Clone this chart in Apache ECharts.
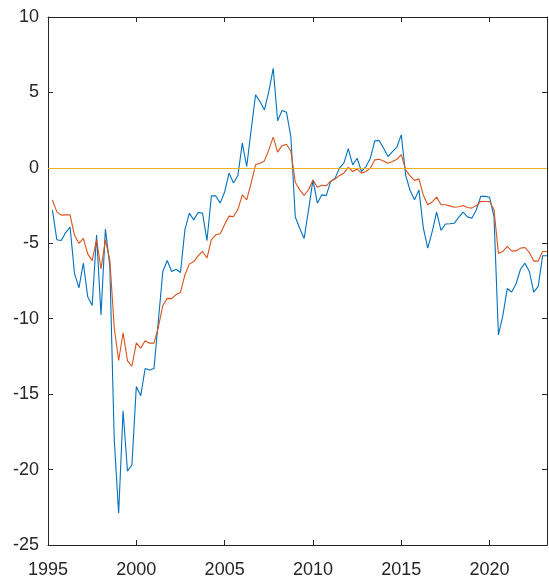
<!DOCTYPE html>
<html>
<head>
<meta charset="utf-8">
<script src="https://cdn.jsdelivr.net/npm/echarts@6/dist/echarts.min.js"></script>
<style>
html,body{margin:0;padding:0;background:#fff;}
#chart{width:549px;height:583px;}
</style>
</head>
<body>
<div id="chart"></div>
<script>
// Quarterly observations, first one at 1995 Q1 (plotted at 1995.25)
const firstYear = 1995;
const firstQuarter = 1;
const xTicks = [1995, 2000, 2005, 2010, 2015, 2020];
const yTicks = [-25, -20, -15, -10, -5, 0, 5, 10];

const seriesBlue = [
  -2.78, -4.77, -4.82, -4.29, -3.93, -7.0, -7.95, -6.32, -8.55, -9.13,
  -4.46, -9.75, -4.06, -6.5, -18.0, -22.9, -16.1, -20.1, -19.7, -14.5,
  -15.1, -13.3, -13.4, -13.3, -10.1, -6.87, -6.14, -6.87, -6.72, -6.94,
  -4.11, -3.0, -3.45, -2.96, -3.0, -4.82, -1.86, -1.86, -2.34, -1.6,
  -0.35, -1.01, -0.51, 1.64, 0.09, 2.5, 4.84, 4.4, 3.84, 5.06,
  6.6, 3.12, 3.8, 3.69, 2.05, -3.26, -4.0, -4.68, -2.78, -0.8,
  -2.34, -1.79, -1.84, -0.91, -0.68, -0.02, 0.31, 1.28, 0.2, 0.64,
  -0.24, 0.09, 0.64, 1.79, 1.81, 1.3, 0.75, 1.08, 1.38, 2.19,
  -0.5, -1.5, -2.12, -1.46, -4.0, -5.32, -4.22, -2.94, -4.14, -3.72,
  -3.71, -3.67, -3.28, -2.94, -3.25, -3.34, -2.78, -1.89, -1.89, -1.95,
  -3.23, -11.07, -9.8, -8.0, -8.23, -7.68, -6.72, -6.32, -6.87, -8.24,
  -7.86, -5.83, -5.83
];

const seriesOrange = [
  -2.12, -2.92, -3.13, -3.12, -3.12, -4.47, -5.0, -4.67, -5.7, -6.15,
  -4.75, -6.7, -4.77, -6.1, -10.6, -12.77, -10.93, -12.8, -13.15, -11.6,
  -11.95, -11.46, -11.62, -11.62, -10.55, -9.12, -8.65, -8.67, -8.4, -8.26,
  -7.1, -6.38, -6.21, -5.83, -5.54, -5.98, -4.75, -4.44, -4.37, -3.75,
  -3.2, -3.23, -2.76, -1.79, -2.12, -1.01, 0.2, 0.31, 0.46, 1.19,
  2.04, 1.04, 1.47, 1.57, 1.1, -0.95, -1.46, -1.83, -1.45, -0.8,
  -1.29, -1.15, -1.19, -0.88, -0.74, -0.5, -0.35, 0.03, -0.24, -0.07,
  -0.35, -0.24, -0.02, 0.53, 0.57, 0.46, 0.31, 0.42, 0.57, 0.88,
  -0.13, -0.53, -0.83, -0.73, -1.81, -2.45, -2.26, -1.94, -2.45, -2.45,
  -2.52, -2.61, -2.58, -2.5, -2.63, -2.67, -2.5, -2.23, -2.23, -2.23,
  -2.78, -5.67, -5.54, -5.21, -5.5, -5.5, -5.32, -5.28, -5.61, -6.18,
  -6.18, -5.54, -5.54
];

const referenceLevel = 0;

// time position of each quarter (end of quarter)
const xPos = seriesBlue.map((_, i) => firstYear + (firstQuarter - 1) * 0.25 + 0.25 * (i + 1));
const blueData = seriesBlue.map((v, i) => [xPos[i], v]);
const orangeData = seriesOrange.map((v, i) => [xPos[i], v]);

const axisColor = '#262626';
const font = 'Liberation Sans, Arial, Helvetica, sans-serif';
const xMin = xTicks[0], xMax = 2023.25;
const yMin = yTicks[0], yMax = yTicks[yTicks.length - 1];

const chart = echarts.init(document.getElementById('chart'), null, {renderer: 'canvas'});
chart.setOption({
  animation: false,
  backgroundColor: '#ffffff',
  grid: {left: 48, right: 2, top: 17, bottom: 38, containLabel: false},
  xAxis: [
    {
      type: 'value', min: xMin, max: xMax, interval: 5, position: 'bottom',
      axisLine: {show: true, onZero: false, lineStyle: {color: axisColor, width: 1}},
      axisTick: {show: true, inside: true, length: 5, lineStyle: {color: axisColor}},
      axisLabel: {show: true, color: axisColor, fontSize: 18, fontFamily: font, margin: 16,
        showMaxLabel: false,
        formatter: v => (xTicks.indexOf(v) >= 0 ? String(v) : '')},
      splitLine: {show: false}
    },
    {
      type: 'value', min: xMin, max: xMax, interval: 5, position: 'top',
      axisLine: {show: true, onZero: false, lineStyle: {color: axisColor, width: 1}},
      axisTick: {show: true, inside: true, length: 5, lineStyle: {color: axisColor}},
      axisLabel: {show: false},
      splitLine: {show: false}
    }
  ],
  yAxis: [
    {
      type: 'value', min: yMin, max: yMax, interval: 5, position: 'left',
      axisLine: {show: true, onZero: false, lineStyle: {color: axisColor, width: 1}},
      axisTick: {show: true, inside: true, length: 5, lineStyle: {color: axisColor}},
      axisLabel: {show: true, color: axisColor, fontSize: 18, fontFamily: font, margin: 9},
      splitLine: {show: false}
    },
    {
      type: 'value', min: yMin, max: yMax, interval: 5, position: 'right',
      axisLine: {show: true, onZero: false, lineStyle: {color: axisColor, width: 1}},
      axisTick: {show: true, inside: true, length: 5, lineStyle: {color: axisColor}},
      axisLabel: {show: false},
      splitLine: {show: false}
    }
  ],
  series: [
    {
      type: 'line', data: blueData, xAxisIndex: 0, yAxisIndex: 0,
      showSymbol: false, symbol: 'none',
      lineStyle: {color: '#0072BD', width: 1.1}, itemStyle: {color: '#0072BD'}
    },
    {
      type: 'line', data: orangeData, xAxisIndex: 0, yAxisIndex: 0,
      showSymbol: false, symbol: 'none',
      lineStyle: {color: '#D95319', width: 1.1}, itemStyle: {color: '#D95319'},
      markLine: {
        silent: true, symbol: 'none', label: {show: false},
        lineStyle: {color: '#EDB120', width: 1.1, type: 'solid'},
        data: [{yAxis: referenceLevel}]
      }
    }
  ]
});
</script>
</body>
</html>
